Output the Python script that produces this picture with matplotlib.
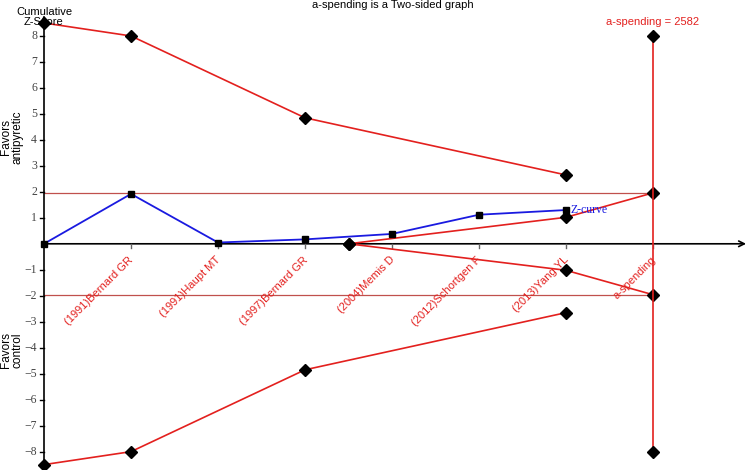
import matplotlib.pyplot as plt

plt.rcParams['font.family'] = ['Liberation Sans', 'DejaVu Sans']

# study labels along the information axis
studies = ['(1991)Bernard GR', '(1991)Haupt MT', '(1997)Bernard GR',
           '(2004)Memis D', '(2012)Schortgen F', '(2013)Yang YL']
study_pos = [1, 2, 3, 4, 5, 6]
ris_pos = 7
ris = 2582

# cumulative Z-curve
z_pos = [0, 1, 2, 3, 4, 5, 6]
z_curve = [0, 1.92, 0.05, 0.17, 0.38, 1.12, 1.30]

# monitoring boundaries (upper, lower mirrored)
mon_pos = [0, 1, 3, 6]
mon_upper = [8.5, 8.0, 4.85, 2.65]
mon_lower = [-v for v in mon_upper]

# alpha-spending (futility) boundaries
fut_pos = [3.5, 6, 7]
fut_upper = [0, 1.02, 1.96]
fut_lower = [-v for v in fut_upper]

conv = 1.96
RED = '#e3201e'

fig = plt.figure(figsize=(7.5, 4.7), dpi=100)
ax = fig.add_axes([0, 0, 1, 1])
ax.set_xlim(-44 / 87, 706 / 87)
ax.set_ylim(-226.2 / 25.98, 243.8 / 25.98)
ax.axis('off')

# conventional boundaries
for c in (conv, -conv):
    ax.plot([0, ris_pos], [c, c], color='#c0504d', lw=0.9, zorder=1)

# axes with arrows
ax.annotate('', xy=(8.07, 0), xytext=(0, 0),
            arrowprops=dict(arrowstyle='->', color='black', lw=1.2,
                            shrinkA=0, shrinkB=0), zorder=2)
ax.annotate('', xy=(0, 8.8), xytext=(0, -8.5),
            arrowprops=dict(arrowstyle='->', color='black', lw=1.2,
                            shrinkA=0, shrinkB=0), zorder=2)

# y ticks
for v in range(-8, 9):
    if v == 0:
        continue
    ax.plot([-0.05, 0], [v, v], color='black', lw=1.0, zorder=2)
    ax.text(-0.08, v, str(v).replace('-', '\u2212'), ha='right', va='center',
            fontsize=8.5, color='#444444', family='Liberation Serif')

# x ticks and labels
for p, lab in zip(study_pos + [ris_pos], studies + ['a-spending']):
    ax.plot([p, p], [0, -0.18], color='#666666', lw=1.0, zorder=2)
    ax.text(p + 0.01, -0.55, lab, rotation=45, rotation_mode='anchor',
            ha='right', va='center', fontsize=8, color=RED)

# boundaries
ax.plot(mon_pos, mon_upper, color=RED, lw=1.2, marker='D', ms=6.5,
        mfc='black', mec='black', zorder=3)
ax.plot(mon_pos, mon_lower, color=RED, lw=1.2, marker='D', ms=6.5,
        mfc='black', mec='black', zorder=3)
ax.plot(fut_pos, fut_upper, color=RED, lw=1.2, marker='D', ms=6.5,
        mfc='black', mec='black', zorder=3)
ax.plot(fut_pos, fut_lower, color=RED, lw=1.2, marker='D', ms=6.5,
        mfc='black', mec='black', zorder=3)
ax.plot([ris_pos, ris_pos], [-8, 8], color=RED, lw=1.2, marker='D', ms=6.5,
        mfc='black', mec='black', zorder=3)

# Z-curve
ax.plot(z_pos, z_curve, color='#1a1ae0', lw=1.3, marker='s', ms=4.5,
        mfc='black', mec='black', zorder=4)
ax.text(z_pos[-1] + 0.05, z_curve[-1], 'Z-curve', color='#1a1ae0',
        fontsize=8.5, family='Liberation Serif', ha='left', va='center')

# texts
ax.text(ris_pos, 8.35, f'a-spending = {ris}', color=RED, fontsize=8,
        ha='center', va='bottom')
fig.text(393 / 750, 1 - 5 / 470, 'a-spending is a Two-sided graph',
         fontsize=8, ha='center', va='center')
fig.text(44 / 750, 1 - 17 / 470, 'Cumulative\nZ-Score', fontsize=8,
         ha='center', va='center', linespacing=1.0)
ax.text(-0.37, 4.1, 'Favors\nantipyretic', rotation=90, fontsize=8.5,
        ha='center', va='center', linespacing=1.0)
ax.text(-0.37, -4.1, 'Favors\ncontrol', rotation=90, fontsize=8.5,
        ha='center', va='center', linespacing=1.0)

plt.savefig('out.png', dpi=100)
